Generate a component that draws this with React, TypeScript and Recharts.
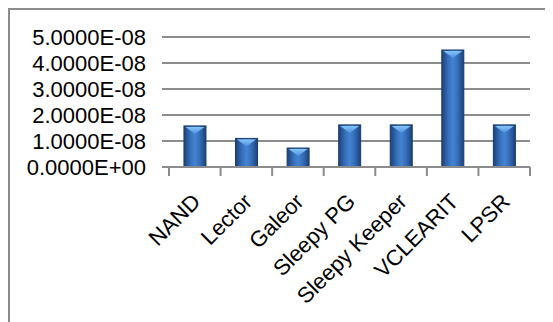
import { BarChart, Bar, XAxis, YAxis, CartesianGrid } from "recharts"

// Leakage power per design
const designs = ["NAND", "Lector", "Galeor", "Sleepy PG", "Sleepy Keeper", "VCLEARIT", "LPSR"]
const leakage = [1.58e-8, 1.1e-8, 0.73e-8, 1.62e-8, 1.62e-8, 4.5e-8, 1.62e-8]
const yTicks = [0, 1e-8, 2e-8, 3e-8, 4e-8, 5e-8]

const data = designs.map((name, i) => ({ name, value: leakage[i] }))

const FONT = "'Liberation Sans', Arial, sans-serif"
const GRID = "#8c8c8c"

// Excel-style scientific notation: 5.0000E-08
const sci = (v: number) => {
  const [m, e] = v.toExponential(4).split("e")
  return `${m}E${e[0]}${e.slice(1).padStart(2, "0")}`
}

// tick marks sit between categories, labels rotated under the center
function CategoryTick(props: any) {
  const { x, y, payload, index } = props
  const half = payload.offset ?? 0
  const last = index === designs.length - 1
  return (
    <g>
      <line x1={x - half} x2={x - half} y1={y} y2={y + 9} stroke={GRID} strokeWidth={2} />
      {last && <line x1={x + half} x2={x + half} y1={y} y2={y + 9} stroke={GRID} strokeWidth={2} />}
      <text
        x={x + 7}
        y={y + 36}
        transform={`rotate(-45 ${x + 7} ${y + 36})`}
        textAnchor="end"
        fontFamily={FONT}
        fontSize={22}
        fill="#000"
      >
        {payload.value}
      </text>
    </g>
  )
}

// bevelled bar: dark edges, lighter core and a light wedge on top
function BevelBar(props: any) {
  const { x, y, width, height } = props
  if (!height || height <= 0) return null
  return (
    <g>
      <rect x={x} y={y} width={width} height={height} fill="url(#barBody)" stroke="#1a3c6c" strokeWidth={1} />
      <polygon
        points={`${x + 1.5},${y + 1} ${x + width - 1.5},${y + 1} ${x + width / 2},${y + 8}`}
        fill="url(#barTop)"
      />
    </g>
  )
}

export default function App() {
  return (
    <div
      style={{
        width: 545,
        height: 330,
        boxSizing: "border-box",
        borderTop: `2px solid ${GRID}`,
        borderLeft: `2px solid ${GRID}`,
        borderRight: "2px solid #e6e6e6",
        background: "#fff",
      }}
    >
      <BarChart
        width={541}
        height={310}
        data={data}
        margin={{ top: 27, right: 21, left: 0, bottom: 3 }}
        barCategoryGap="29%"
      >
        <defs>
          <linearGradient id="barBody" x1="0" y1="0" x2="1" y2="0">
            <stop offset="0%" stopColor="#1b427a" />
            <stop offset="30%" stopColor="#3670bb" />
            <stop offset="50%" stopColor="#4483d2" />
            <stop offset="70%" stopColor="#3670bb" />
            <stop offset="100%" stopColor="#1b427a" />
          </linearGradient>
          <linearGradient id="barTop" x1="0" y1="0" x2="0" y2="1">
            <stop offset="0%" stopColor="#86c6f7" />
            <stop offset="100%" stopColor="#4c90e0" />
          </linearGradient>
        </defs>
        <CartesianGrid vertical={false} stroke={GRID} strokeWidth={2} />
        <XAxis
          dataKey="name"
          interval={0}
          height={150}
          axisLine={{ stroke: GRID, strokeWidth: 2 }}
          tickLine={false}
          tickSize={0}
          tickMargin={0}
          tick={<CategoryTick />}
        />
        <YAxis
          width={159}
          domain={[0, 5e-8]}
          ticks={yTicks}
          interval={0}
          axisLine={false}
          tickLine={{ stroke: GRID, strokeWidth: 2 }}
          tickSize={7}
          tickMargin={16}
          tickFormatter={sci}
          tick={{ fontFamily: FONT, fontSize: 22, fill: "#000" }}
        />
        <Bar dataKey="value" shape={<BevelBar />} isAnimationActive={false} />
      </BarChart>
    </div>
  )
}
